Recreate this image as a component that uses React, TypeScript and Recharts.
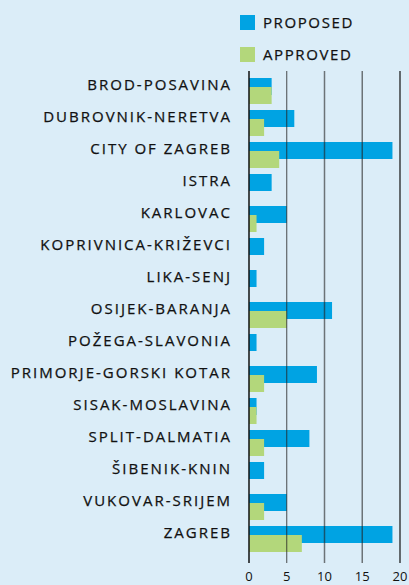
import { BarChart, Bar, XAxis, YAxis, ReferenceLine } from 'recharts';

const counties = [
  'BROD-POSAVINA',
  'DUBROVNIK-NERETVA',
  'CITY OF ZAGREB',
  'ISTRA',
  'KARLOVAC',
  'KOPRIVNICA-KRIŽEVCI',
  'LIKA-SENJ',
  'OSIJEK-BARANJA',
  'POŽEGA-SLAVONIA',
  'PRIMORJE-GORSKI KOTAR',
  'SISAK-MOSLAVINA',
  'SPLIT-DALMATIA',
  'ŠIBENIK-KNIN',
  'VUKOVAR-SRIJEM',
  'ZAGREB',
];
const proposed = [3, 6, 19, 3, 5, 2, 1, 11, 1, 9, 1, 8, 2, 5, 19];
const approved = [3, 2, 4, 0, 1, 0, 0, 5, 0, 2, 1, 2, 0, 2, 7];
const xTicks = [0, 5, 10, 15, 20];

const BLUE = '#00a3e3';
const GREEN = '#b3d77b';
const BG = '#dbedf8';
const FONT = '"Open Sans", "Noto Sans", sans-serif';

const data = counties.map((name, i) => ({ name, proposed: proposed[i], approved: approved[i] }));

// county names sit a little above the middle of their bar pair
function CountyTick({ x, y, payload }: any) {
  return (
    <text
      x={x - 9}
      y={y - 1}
      textAnchor="end"
      fontFamily={FONT}
      fontSize={15}
      letterSpacing={2}
      fill="#111"
      stroke="#111"
      strokeWidth={0.25}
    >
      {payload.value}
    </text>
  );
}

function Swatch({ color, label, top }: { color: string; label: string; top: number }) {
  return (
    <div style={{ position: 'absolute', left: 240, top, display: 'flex', alignItems: 'center' }}>
      <div style={{ width: 15, height: 15, background: color }} />
      <span style={{ marginLeft: 8, fontFamily: FONT, fontSize: 15, letterSpacing: 1.6, color: '#111', WebkitTextStroke: '0.25px #111' }}>
        {label}
      </span>
    </div>
  );
}

export default function App() {
  return (
    <div style={{ position: 'relative', width: 409, height: 585, background: BG, overflow: 'hidden' }}>
      <style>{'body{margin:0}'}</style>
      <Swatch color={BLUE} label="PROPOSED" top={12} />
      <Swatch color={GREEN} label="APPROVED" top={44} />
      <BarChart
        width={409}
        height={585}
        data={data}
        layout="vertical"
        margin={{ top: 71, right: 9, left: 0, bottom: 0 }}
        barGap={-8}
        barSize={17}
      >
        <XAxis
          type="number"
          domain={[0, 20]}
          ticks={xTicks}
          axisLine={false}
          tickLine={false}
          height={22}
          tick={{ fontFamily: FONT, fontSize: 13, fill: '#111', dy: 1 }}
          interval={0}
        />
        <YAxis
          type="category"
          dataKey="name"
          width={249}
          axisLine={false}
          tickLine={false}
          padding={{ top: 4, bottom: 8 }}
          tick={<CountyTick />}
          interval={0}
        />
        <Bar dataKey="proposed" fill={BLUE} isAnimationActive={false} />
        <Bar dataKey="approved" fill={GREEN} isAnimationActive={false} />
        <ReferenceLine x={0} stroke="#111" strokeWidth={1.5} />
        <ReferenceLine x={5} stroke="#222" strokeOpacity={0.8} />
        <ReferenceLine x={10} stroke="#222" strokeOpacity={0.6} strokeWidth={1.5} />
        <ReferenceLine x={15} stroke="#222" strokeOpacity={0.6} strokeWidth={1.5} />
        <ReferenceLine x={20} stroke="#111" strokeWidth={1.2} />
      </BarChart>
    </div>
  );
}
